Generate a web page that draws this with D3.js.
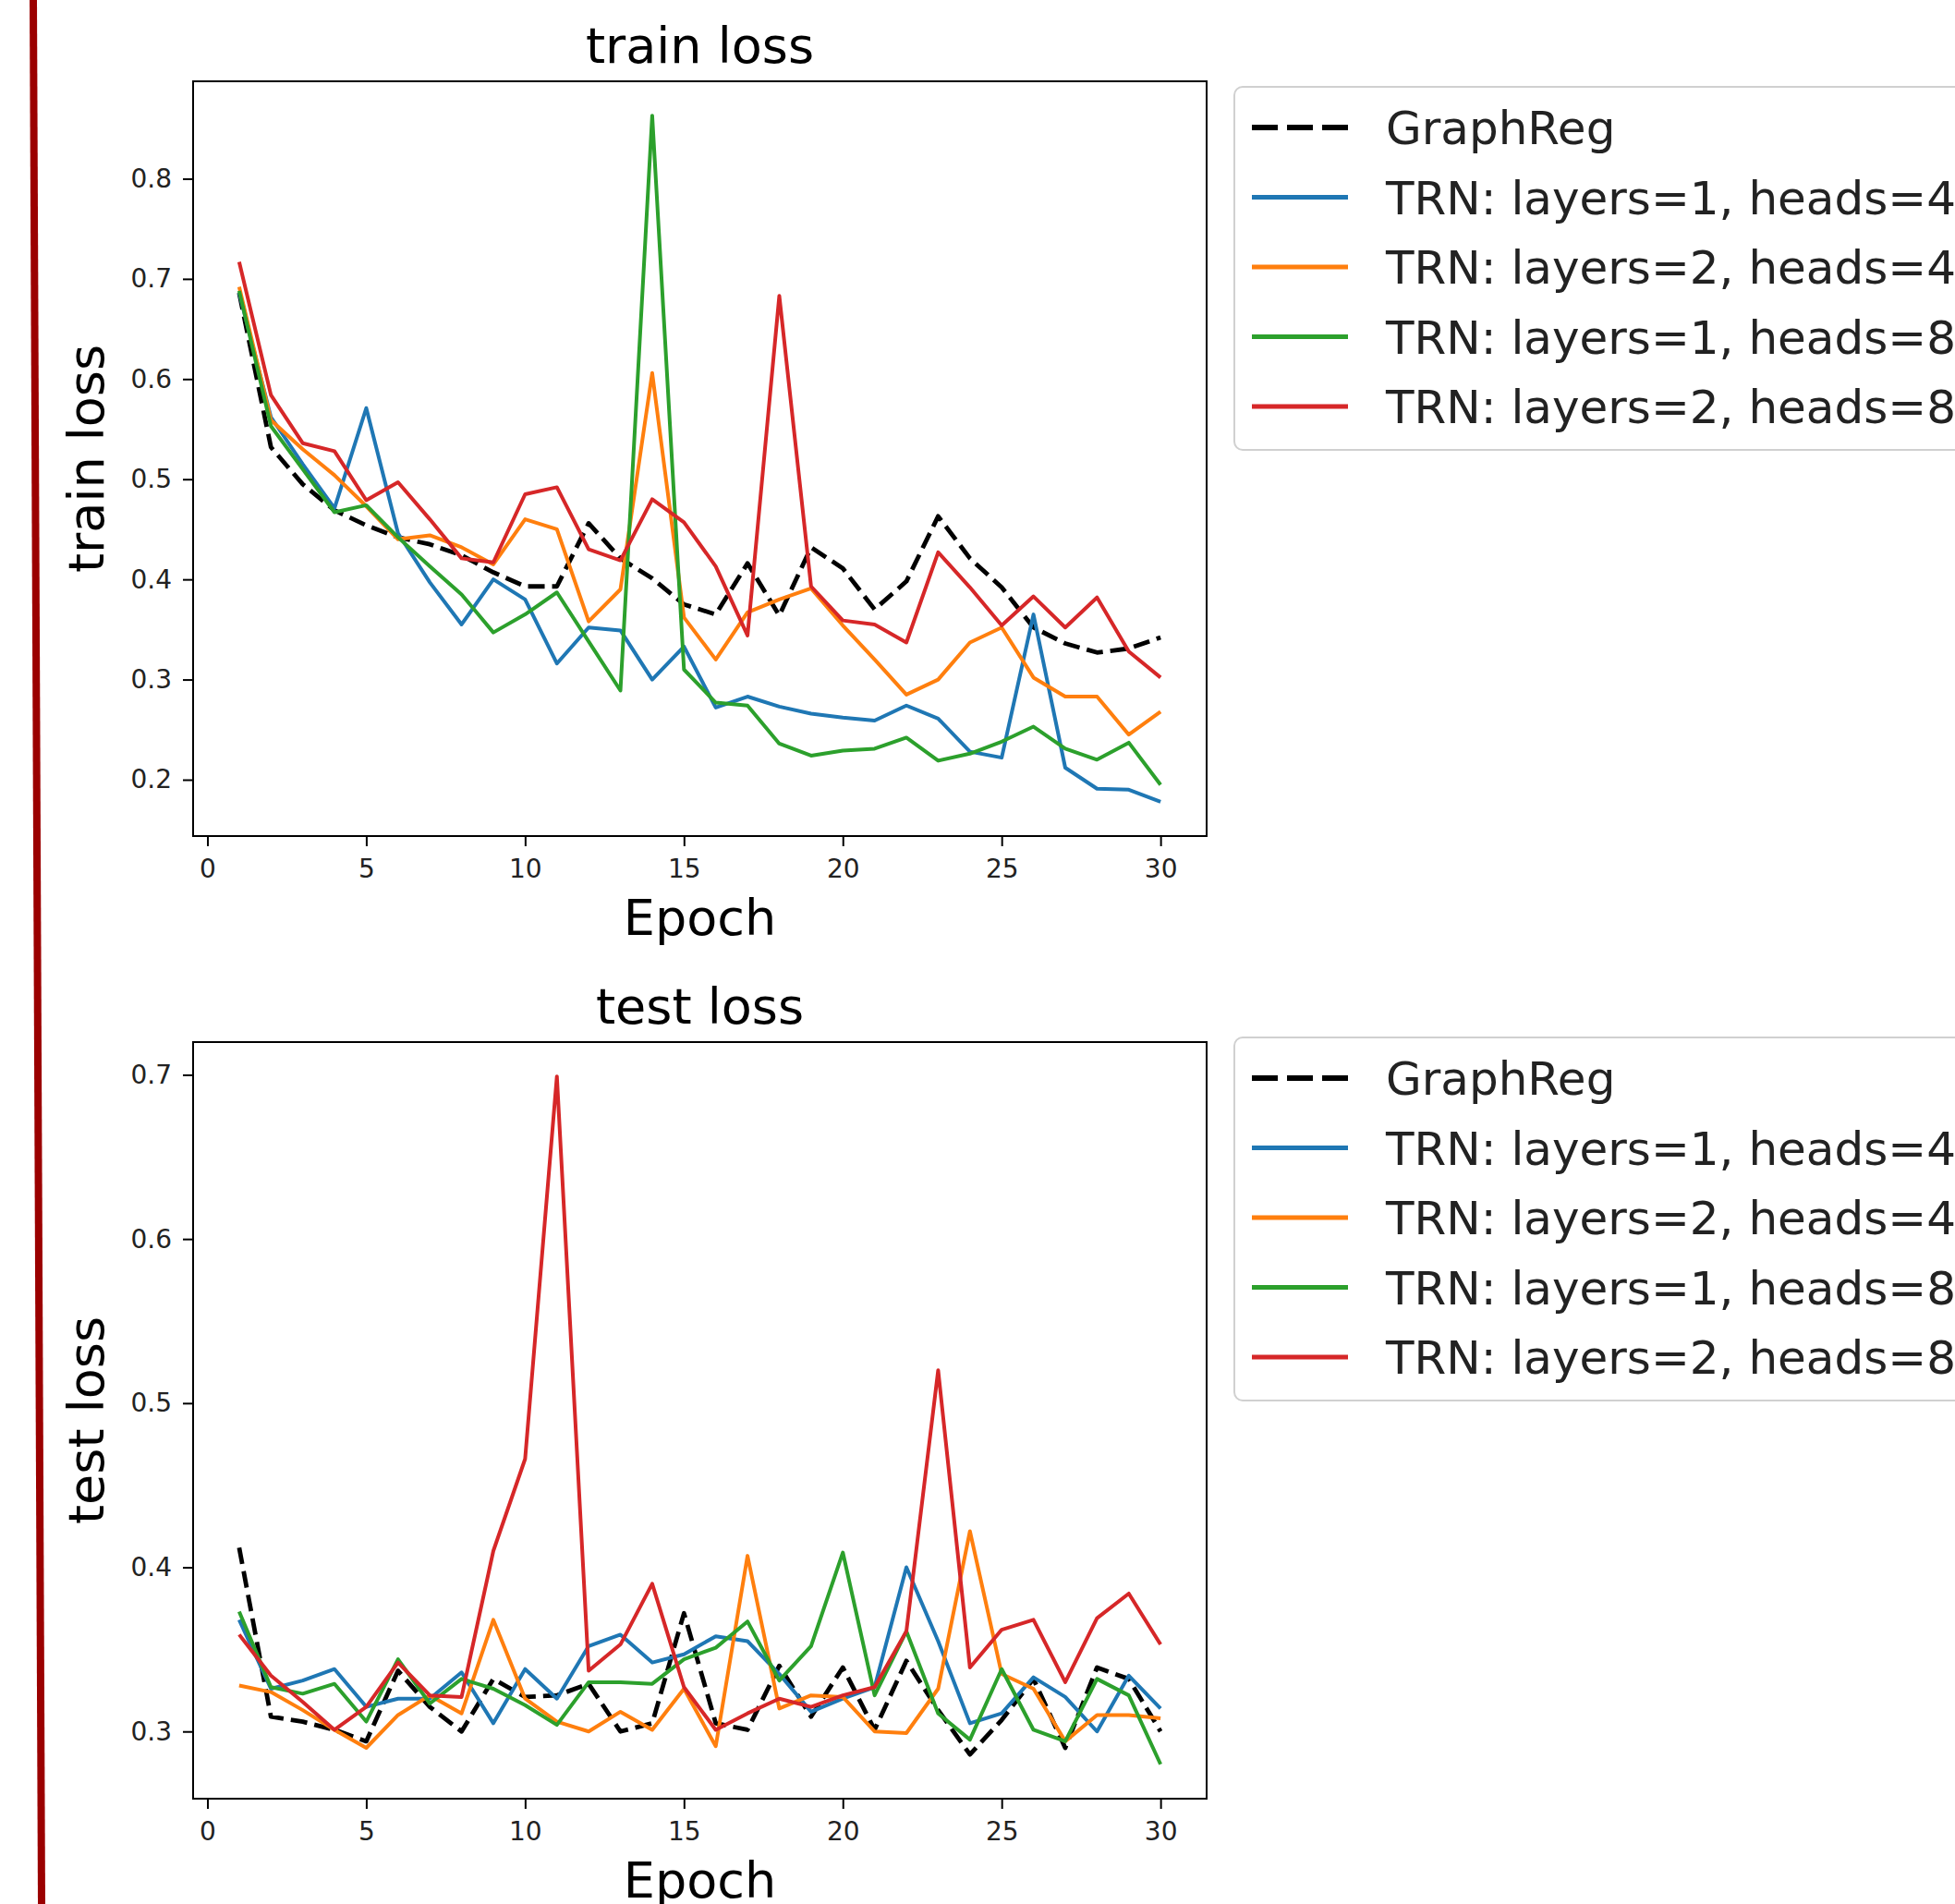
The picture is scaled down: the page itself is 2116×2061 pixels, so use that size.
<!DOCTYPE html>
<html>
<head>
<meta charset="utf-8">
<script src="https://cdn.jsdelivr.net/npm/d3@7"></script>
<style>
  body { margin: 0; background: #fff; }
  svg { display: block; font-family: "DejaVu Sans", sans-serif; }
</style>
</head>
<body>
<svg id="chart" width="2116" height="2061"></svg>
<script>
const epochs = [1, 2, 3, 4, 5, 6, 7, 8, 9, 10, 11, 12, 13, 14, 15, 16, 17, 18, 19, 20, 21, 22, 23, 24, 25, 26, 27, 28, 29, 30];

const seriesNames = [
  "GraphReg",
  "TRN: layers=1, heads=4",
  "TRN: layers=2, heads=4",
  "TRN: layers=1, heads=8",
  "TRN: layers=2, heads=8",
];
const seriesColors = ["#000000", "#1f77b4", "#ff7f0e", "#2ca02c", "#d62728"];

// train loss
const trainGraphReg = [0.686, 0.532, 0.495, 0.469, 0.454, 0.442, 0.435, 0.424, 0.407, 0.393, 0.393, 0.456, 0.421, 0.401, 0.375, 0.365, 0.416, 0.364, 0.432, 0.411, 0.370, 0.398, 0.463, 0.421, 0.392, 0.352, 0.336, 0.327, 0.331, 0.342];
const trainL1H4 = [0.686, 0.562, 0.515, 0.471, 0.571, 0.446, 0.397, 0.355, 0.400, 0.380, 0.316, 0.352, 0.349, 0.300, 0.333, 0.272, 0.283, 0.273, 0.266, 0.262, 0.259, 0.274, 0.261, 0.228, 0.222, 0.365, 0.212, 0.191, 0.190, 0.178];
const trainL2H4 = [0.692, 0.559, 0.530, 0.504, 0.473, 0.440, 0.444, 0.432, 0.415, 0.460, 0.450, 0.358, 0.390, 0.606, 0.362, 0.320, 0.367, 0.380, 0.391, 0.354, 0.320, 0.285, 0.300, 0.337, 0.352, 0.302, 0.283, 0.283, 0.245, 0.268];
const trainL1H8 = [0.688, 0.553, 0.510, 0.467, 0.474, 0.442, 0.413, 0.385, 0.347, 0.365, 0.387, 0.338, 0.289, 0.863, 0.310, 0.277, 0.274, 0.236, 0.224, 0.229, 0.231, 0.242, 0.219, 0.226, 0.238, 0.253, 0.231, 0.220, 0.237, 0.195];
const trainL2H8 = [0.717, 0.584, 0.536, 0.528, 0.479, 0.497, 0.460, 0.421, 0.417, 0.485, 0.492, 0.430, 0.419, 0.480, 0.457, 0.413, 0.344, 0.683, 0.393, 0.359, 0.355, 0.337, 0.427, 0.392, 0.354, 0.383, 0.352, 0.382, 0.328, 0.302];

// test loss
const testGraphReg = [0.412, 0.309, 0.306, 0.301, 0.294, 0.337, 0.315, 0.300, 0.332, 0.321, 0.322, 0.329, 0.300, 0.305, 0.372, 0.305, 0.301, 0.340, 0.309, 0.339, 0.301, 0.343, 0.313, 0.286, 0.307, 0.332, 0.290, 0.339, 0.332, 0.300];
const testL1H4 = [0.368, 0.326, 0.331, 0.338, 0.315, 0.320, 0.320, 0.336, 0.305, 0.338, 0.320, 0.352, 0.359, 0.342, 0.347, 0.358, 0.355, 0.335, 0.312, 0.320, 0.327, 0.400, 0.355, 0.305, 0.311, 0.333, 0.321, 0.300, 0.334, 0.314];
const testL2H4 = [0.328, 0.324, 0.313, 0.301, 0.290, 0.310, 0.322, 0.311, 0.368, 0.320, 0.306, 0.300, 0.312, 0.301, 0.326, 0.291, 0.407, 0.314, 0.322, 0.321, 0.300, 0.299, 0.326, 0.422, 0.335, 0.326, 0.294, 0.310, 0.310, 0.308];
const testL1H8 = [0.373, 0.327, 0.323, 0.329, 0.306, 0.344, 0.317, 0.332, 0.326, 0.316, 0.304, 0.330, 0.330, 0.329, 0.344, 0.351, 0.367, 0.331, 0.352, 0.409, 0.322, 0.361, 0.311, 0.295, 0.338, 0.301, 0.294, 0.332, 0.322, 0.280];
const testL2H8 = [0.359, 0.334, 0.318, 0.301, 0.315, 0.342, 0.322, 0.321, 0.410, 0.466, 0.699, 0.337, 0.353, 0.390, 0.327, 0.301, 0.311, 0.320, 0.315, 0.322, 0.327, 0.361, 0.520, 0.339, 0.362, 0.368, 0.330, 0.369, 0.384, 0.353];

const xTicks = [0, 5, 10, 15, 20, 25, 30];
const trainYTicks = [0.2, 0.3, 0.4, 0.5, 0.6, 0.7, 0.8];
const testYTicks = [0.3, 0.4, 0.5, 0.6, 0.7];

const svg = d3.select("#chart");

// dark red bar at the left edge of the page
svg.append("line")
  .attr("x1", 36).attr("y1", 0)
  .attr("x2", 45).attr("y2", 2061)
  .attr("stroke", "#9b0000")
  .attr("stroke-width", 8);

function padded(lo, hi) {
  const m = (hi - lo) * 0.05;
  return [lo - m, hi + m];
}

function panel({ top, bottom, title, ylabel, series, yTicks, legendTop }) {
  const left = 209, right = 1306;
  const x = d3.scaleLinear()
    .domain(padded(d3.min(epochs), d3.max(epochs)))
    .range([left, right]);
  const all = series.flat();
  const y = d3.scaleLinear()
    .domain(padded(d3.min(all), d3.max(all)))
    .range([bottom, top]);

  const g = svg.append("g");

  const line = d3.line()
    .x((d, i) => x(epochs[i]))
    .y((d) => y(d));

  g.selectAll("path.series")
    .data(series)
    .join("path")
    .attr("class", "series")
    .attr("d", line)
    .attr("fill", "none")
    .attr("stroke", (d, i) => seriesColors[i])
    .attr("stroke-width", (d, i) => (i === 0 ? 4.8 : 4))
    .attr("stroke-linejoin", "round")
    .attr("stroke-dasharray", (d, i) => (i === 0 ? "18,8" : null));

  // frame
  g.append("rect")
    .attr("x", left).attr("y", top)
    .attr("width", right - left).attr("height", bottom - top)
    .attr("fill", "none")
    .attr("stroke", "#000")
    .attr("stroke-width", 2);

  const xAxis = g.append("g")
    .attr("transform", `translate(0,${bottom})`)
    .call(d3.axisBottom(x).tickValues(xTicks).tickFormat(d3.format("d"))
      .tickSize(11).tickSizeOuter(0).tickPadding(14));
  const yAxis = g.append("g")
    .attr("transform", `translate(${left},0)`)
    .call(d3.axisLeft(y).tickValues(yTicks).tickFormat(d3.format(".1f"))
      .tickSize(11).tickSizeOuter(0).tickPadding(12));

  [xAxis, yAxis].forEach((a) => {
    a.select(".domain").remove();
    a.selectAll(".tick line").attr("stroke", "#000").attr("stroke-width", 2);
    a.selectAll(".tick text")
      .attr("fill", "#222")
      .style("font-size", "28px")
      .style("font-family", "DejaVu Sans");
  });

  g.append("text")
    .attr("x", (left + right) / 2)
    .attr("y", top - 20)
    .attr("text-anchor", "middle")
    .style("font-size", "54px")
    .text(title);

  g.append("text")
    .attr("x", (left + right) / 2)
    .attr("y", bottom + 107)
    .attr("text-anchor", "middle")
    .style("font-size", "54px")
    .text("Epoch");

  g.append("text")
    .attr("transform", `translate(112,${(top + bottom) / 2}) rotate(-90)`)
    .attr("text-anchor", "middle")
    .style("font-size", "54px")
    .text(ylabel);

  // legend
  const lg = svg.append("g").attr("transform", `translate(1336,${legendTop})`);
  lg.append("rect")
    .attr("width", 900).attr("height", 393)
    .attr("rx", 9)
    .attr("fill", "#fff")
    .attr("stroke", "#d0d0d0")
    .attr("stroke-width", 2);
  const rows = lg.selectAll("g.row")
    .data(seriesNames)
    .join("g")
    .attr("class", "row")
    .attr("transform", (d, i) => `translate(0,${44 + i * 75.5})`);
  rows.append("line")
    .attr("x1", 19).attr("x2", 123)
    .attr("stroke", (d, i) => seriesColors[i])
    .attr("stroke-width", (d, i) => (i === 0 ? 6 : 5))
    .attr("stroke-dasharray", (d, i) => (i === 0 ? "28,10" : null));
  rows.append("text")
    .attr("x", 164)
    .attr("dy", "0.36em")
    .attr("fill", "#222")
    .style("font-size", "50px")
    .text((d) => d);
}

panel({
  top: 88, bottom: 905,
  title: "train loss", ylabel: "train loss",
  series: [trainGraphReg, trainL1H4, trainL2H4, trainL1H8, trainL2H8],
  yTicks: trainYTicks,
  legendTop: 94,
});

panel({
  top: 1128, bottom: 1947,
  title: "test loss", ylabel: "test loss",
  series: [testGraphReg, testL1H4, testL2H4, testL1H8, testL2H8],
  yTicks: testYTicks,
  legendTop: 1123,
});
</script>
</body>
</html>
